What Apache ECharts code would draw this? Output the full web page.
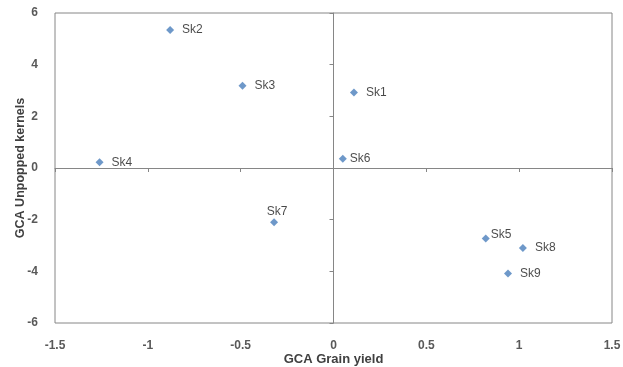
<!DOCTYPE html>
<html><head><meta charset="utf-8">
<script src="https://cdn.jsdelivr.net/npm/echarts@6/dist/echarts.min.js"></script>
<style>html,body{margin:0;padding:0;background:#fff}#c{width:623px;height:367px}</style>
</head><body><div id="c"></div>
<script>
var names = ['Sk1','Sk2','Sk3','Sk4','Sk5','Sk6','Sk7','Sk8','Sk9'];
var grainYield = [0.11, -0.88, -0.49, -1.26, 0.82, 0.05, -0.32, 1.02, 0.94];
var unpopped = [2.92, 5.34, 3.18, 0.22, -2.73, 0.36, -2.10, -3.10, -4.08];
var xTicks = [-1.5, -1, -0.5, 0, 0.5, 1, 1.5];
var yTicks = [-6, -4, -2, 0, 2, 4, 6];

var labelPlace = {
  Sk5: {position: 'right', distance: 1, offset: [0, -4]},
  Sk6: {position: 'right', distance: 3},
  Sk7: {position: 'top', distance: 1, offset: [3, 0]}
};
var data = names.map(function (n, i) {
  var item = {name: n, value: [grainYield[i], unpopped[i]]};
  if (labelPlace[n]) item.label = labelPlace[n];
  return item;
});
var font = '"Liberation Sans", Arial, sans-serif';
var chart = echarts.init(document.getElementById('c'));
chart.setOption({
  animation: false,
  grid: {left: 55, right: 11, top: 13, bottom: 44, show: true, borderColor: '#868686', borderWidth: 1,
    containLabel: false, outerBoundsMode: 'none'},
  xAxis: [{
    type: 'value', position: 'bottom', min: xTicks[0], max: xTicks[xTicks.length - 1], interval: 0.5,
    name: 'GCA Grain yield', nameLocation: 'middle', nameGap: 30, nameMoveOverlap: false,
    nameTextStyle: {fontFamily: font, fontSize: 13, fontWeight: 'bold', color: '#404040'},
    axisLine: {show: false, onZero: false}, axisTick: {show: false}, splitLine: {show: false},
    axisLabel: {fontFamily: font, fontSize: 12, fontWeight: 'bold', color: '#595959', margin: 17}
  }, {
    type: 'value', position: 'bottom', min: xTicks[0], max: xTicks[xTicks.length - 1], interval: 0.5,
    axisLine: {show: true, onZero: true, lineStyle: {color: '#868686', width: 1}},
    axisTick: {show: true, inside: false, length: 4, lineStyle: {color: '#868686'}},
    axisLabel: {show: false}, splitLine: {show: false}
  }],
  yAxis: [{
    type: 'value', position: 'left', min: yTicks[0], max: yTicks[yTicks.length - 1], interval: 2,
    name: 'GCA Unpopped kernels', nameLocation: 'middle', nameGap: 28, nameMoveOverlap: false,
    nameTextStyle: {fontFamily: font, fontSize: 12.5, fontWeight: 'bold', color: '#404040'},
    axisLine: {show: false, onZero: false}, axisTick: {show: false}, splitLine: {show: false},
    axisLabel: {fontFamily: font, fontSize: 12, fontWeight: 'bold', color: '#595959', margin: 17}
  }, {
    type: 'value', position: 'left', min: yTicks[0], max: yTicks[yTicks.length - 1], interval: 2,
    axisLine: {show: true, onZero: true, lineStyle: {color: '#868686', width: 1}},
    axisTick: {show: true, inside: false, length: 4, lineStyle: {color: '#868686'}},
    axisLabel: {show: false}, splitLine: {show: false}
  }],
  series: [{
    type: 'scatter', xAxisIndex: 0, yAxisIndex: 0,
    symbol: 'diamond', symbolSize: 8,
    itemStyle: {color: '#4a7ebb'},
    label: {show: true, formatter: '{b}', position: 'right', distance: 8,
      fontFamily: font, fontSize: 12, color: '#1a1a1a'},
    data: data
  }]
});
</script></body></html>
